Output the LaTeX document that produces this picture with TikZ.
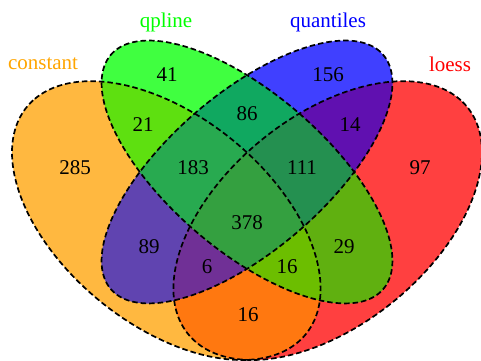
\documentclass[tikz,border=0pt]{standalone}
\usepackage{fontspec}
\setmainfont{Liberation Serif}
\definecolor{cC}{RGB}{255,184,64}
\definecolor{cQ}{RGB}{64,255,64}
\definecolor{cU}{RGB}{64,64,255}
\definecolor{cL}{RGB}{255,64,64}
\definecolor{cCQ}{RGB}{94,224,16}
\definecolor{cQU}{RGB}{16,168,96}
\definecolor{cUL}{RGB}{96,16,176}
\definecolor{cCU}{RGB}{96,68,176}
\definecolor{cQL}{RGB}{96,176,16}
\definecolor{cCL}{RGB}{255,120,16}
\definecolor{cCQU}{RGB}{40,170,80}
\definecolor{cQUL}{RGB}{36,144,80}
\definecolor{cCUL}{RGB}{112,48,150}
\definecolor{cCQL}{RGB}{108,190,0}
\definecolor{cALL}{RGB}{52,160,64}
\definecolor{tC}{RGB}{255,165,0}
\definecolor{tQ}{RGB}{0,255,0}
\definecolor{tU}{RGB}{0,0,255}
\definecolor{tL}{RGB}{255,0,0}
\def\ellC{plot[domain=0:360,samples=240,variable=\t] ({166.3-133.15*cos(\t)-78*sin(\t)},{139.42+120.28*cos(\t)-70.5*sin(\t)}) -- cycle}
\def\ellQ{plot[domain=0:360,samples=240,variable=\t] ({247-133.15*cos(\t)-58.5*sin(\t)},{188.02+120.28*cos(\t)-53*sin(\t)}) -- cycle}
\def\ellU{plot[domain=0:360,samples=240,variable=\t] ({247+133.15*cos(\t)-58.5*sin(\t)},{188.02+120.28*cos(\t)+53*sin(\t)}) -- cycle}
\def\ellL{plot[domain=0:360,samples=240,variable=\t] ({327.7+133.15*cos(\t)-78*sin(\t)},{139.42+120.28*cos(\t)+70.5*sin(\t)}) -- cycle}
\tikzset{
  border/.style={draw=black,line width=1.7pt,dash pattern=on 5.5pt off 3pt},
  num/.style={font=\fontsize{21}{25}\selectfont,text=black,inner sep=0pt},
  lab/.style={font=\fontsize{21}{25}\selectfont,inner sep=0pt}
}
\begin{document}
\begin{tikzpicture}[x=1pt,y=1pt]
\useasboundingbox (0,0) rectangle (481,360);
% single sets
\fill[cC] \ellC;
\fill[cL] \ellL;
\fill[cQ] \ellQ;
\fill[cU] \ellU;
% pairs
\begin{scope}\clip \ellC; \fill[cCQ] \ellQ; \end{scope}
\begin{scope}\clip \ellC; \fill[cCU] \ellU; \end{scope}
\begin{scope}\clip \ellC; \fill[cCL] \ellL; \end{scope}
\begin{scope}\clip \ellQ; \fill[cQU] \ellU; \end{scope}
\begin{scope}\clip \ellQ; \fill[cQL] \ellL; \end{scope}
\begin{scope}\clip \ellU; \fill[cUL] \ellL; \end{scope}
% triples
\begin{scope}\clip \ellC; \clip \ellQ; \fill[cCQU] \ellU; \end{scope}
\begin{scope}\clip \ellQ; \clip \ellU; \fill[cQUL] \ellL; \end{scope}
\begin{scope}\clip \ellC; \clip \ellU; \fill[cCUL] \ellL; \end{scope}
\begin{scope}\clip \ellC; \clip \ellQ; \fill[cCQL] \ellL; \end{scope}
% all four
\begin{scope}\clip \ellC; \clip \ellQ; \clip \ellU; \fill[cALL] \ellL; \end{scope}
% borders
\path[border] \ellC;
\path[border] \ellQ;
\path[border] \ellU;
\path[border] \ellL;
% numbers
\node[num] (n285) at (75,192) {285};
\node[num] (n41) at (167,285) {41};
\node[num] (n156) at (328,285) {156};
\node[num] (n97) at (420,192) {97};
\node[num] (n21) at (143,235) {21};
\node[num] (n86) at (247,246) {86};
\node[num] (n14) at (350,235) {14};
\node[num] (n183) at (193,192) {183};
\node[num] (n111) at (302,192) {111};
\node[num] (n378) at (247,137) {378};
\node[num] (n89) at (149,113) {89};
\node[num] (n6) at (207,93) {6};
\node[num] (n16a) at (287,93) {16};
\node[num] (n29) at (344,113) {29};
\node[num] (n16b) at (248,45) {16};
% labels
\node[lab,text=tC] (lc) at (43,296) {constant};
\node[lab,text=tQ] (lq) at (166,338) {qpline};
\node[lab,text=tU] (lu) at (328,338) {quantiles};
\node[lab,text=tL] (ll) at (450,296) {loess};
\end{tikzpicture}
\end{document}
